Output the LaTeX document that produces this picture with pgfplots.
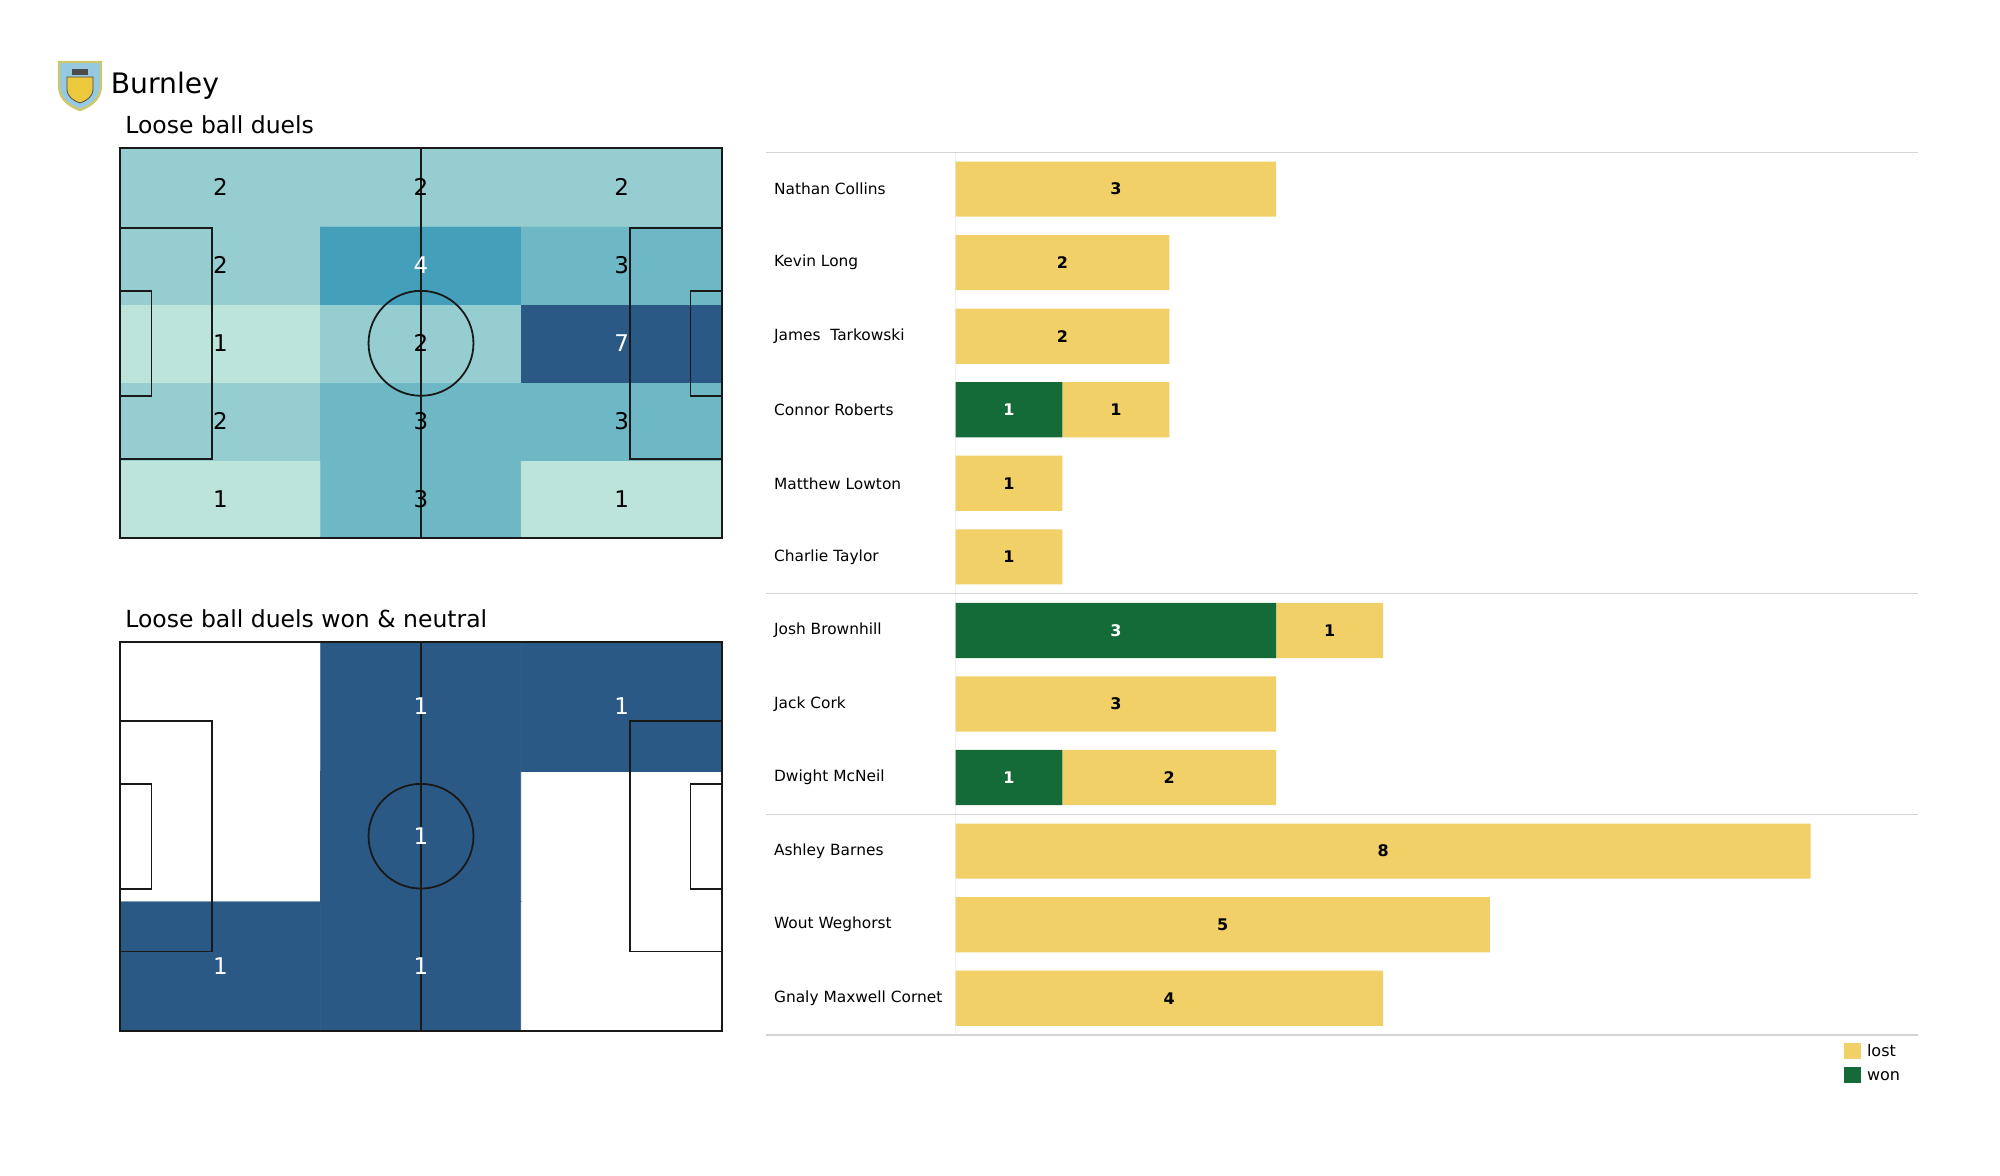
\documentclass[border=0pt]{standalone}
\usepackage{pgfplots}
\pgfplotsset{compat=1.18}
\usepackage{pgfplotstable}
\usepackage{fontspec}
\setmainfont{DejaVu Sans}
\definecolor{lostc}{RGB}{242,208,104}
\definecolor{wonc}{RGB}{21,107,56}
\definecolor{pline}{RGB}{25,25,25}
\definecolor{sepc}{RGB}{212,212,212}
\definecolor{crestblue}{RGB}{150,200,225}
\definecolor{crestrim}{RGB}{205,200,110}
\definecolor{crestyel}{RGB}{235,200,60}

\pgfplotstableread{
x y v
17.5 6.8 1
52.5 6.8 3
87.5 6.8 1
17.5 20.4 2
52.5 20.4 3
87.5 20.4 3
17.5 34 1
52.5 34 2
87.5 34 7
17.5 47.6 2
52.5 47.6 4
87.5 47.6 3
17.5 61.2 2
52.5 61.2 2
87.5 61.2 2
}\heatA

\pgfplotstableread{
x y t
17.5 6.8 1
52.5 6.8 3
87.5 6.8 1
17.5 20.4 2
52.5 20.4 3
87.5 20.4 3
17.5 34 1
52.5 34 2
17.5 47.6 2
87.5 47.6 3
17.5 61.2 2
52.5 61.2 2
87.5 61.2 2
}\labA

\pgfplotstableread{
x y t
52.5 47.6 4
87.5 34 7
}\labAw

\pgfplotstableread{
x y v
17.5 11.333 1
52.5 11.333 1
87.5 11.333 0
17.5 34 0
52.5 34 1
87.5 34 0
17.5 56.667 0
52.5 56.667 1
87.5 56.667 1
}\heatB

\pgfplotstableread{
x y t
17.5 11.333 1
52.5 11.333 1
52.5 34 1
52.5 56.667 1
87.5 56.667 1
}\labB

\pgfplotstableread{
row won lost
0 0 3
1 0 2
2 0 2
3 1 1
4 0 1
5 0 1
6 3 1
7 0 3
8 1 2
9 0 8
10 0 5
11 0 4
}\bardata

\pgfplotstableread{
x y t
0.5 3 1
1.5 6 3
0.5 8 1
}\wonlab

\pgfplotstableread{
x y t
1.5 0 3
1 1 2
1 2 2
1.5 3 1
0.5 4 1
0.5 5 1
3.5 6 1
1.5 7 3
2 8 2
4 9 8
2.5 10 5
2 11 4
}\lostlab

\tikzset{pl/.style={draw=pline, line width=0.9pt}}
\newcommand{\pitchlines}{%
  \draw[pl] (axis cs:52.5,0) -- (axis cs:52.5,68);
  \draw[pl] (axis cs:52.5,34) circle[radius=9.15];
  \draw[pl] (axis cs:0,13.84) -- (axis cs:16,13.84) -- (axis cs:16,54.16) -- (axis cs:0,54.16);
  \draw[pl] (axis cs:105,13.84) -- (axis cs:89,13.84) -- (axis cs:89,54.16) -- (axis cs:105,54.16);
  \draw[pl] (axis cs:0,24.84) -- (axis cs:5.5,24.84) -- (axis cs:5.5,43.16) -- (axis cs:0,43.16);
  \draw[pl] (axis cs:105,24.84) -- (axis cs:99.5,24.84) -- (axis cs:99.5,43.16) -- (axis cs:105,43.16);
  \draw[pl, line width=1.1pt] (axis cs:0,0) rectangle (axis cs:105,68);
}
\pgfplotsset{
  pitchaxis/.style={anchor=south west, scale only axis, width=301pt,
    xmin=0, xmax=105, ymin=0, ymax=68, hide axis, clip=false, enlargelimits=false},
  heatlab/.style={only marks, mark=none, nodes near coords, point meta=explicit symbolic,
    nodes near coords align=center,
    every node near coord/.append style={anchor=center, text=#1, font=\fontsize{11.5}{13}\selectfont}},
  barlab/.style={only marks, mark=none, nodes near coords, point meta=explicit symbolic,
    nodes near coords align=center,
    every node near coord/.append style={anchor=center, text=#1, font=\bfseries\fontsize{8}{9.6}\selectfont}},
  sqlegend/.style={legend image code/.code={\fill[##1] (0pt,-3.05pt) rectangle (8.5pt,4.95pt);}},
}

\begin{document}
\begin{tikzpicture}
\useasboundingbox (0,0) rectangle (1000pt,587.5pt);

% crest
\filldraw[fill=crestblue, draw=crestrim, line width=1.2pt]
  (29.5pt,556.5pt) -- (50.5pt,556.5pt) -- (50.5pt,545pt)
  .. controls (50.5pt,537pt) and (44pt,534pt) .. (40pt,532.5pt)
  .. controls (36pt,534pt) and (29.5pt,537pt) .. (29.5pt,545pt) -- cycle;
\filldraw[fill=crestyel, draw=black!70, line width=0.4pt]
  (33.5pt,549pt) -- (46.5pt,549pt) -- (46.5pt,543pt)
  .. controls (46.5pt,539pt) and (43pt,537pt) .. (40pt,536pt)
  .. controls (37pt,537pt) and (33.5pt,539pt) .. (33.5pt,543pt) -- cycle;
\fill[black!70] (36pt,550pt) rectangle (44pt,553pt);

\node[anchor=base west, inner sep=0pt, font=\fontsize{14.1}{16}\selectfont] at (55.25pt,540.85pt) {Burnley};
\node[anchor=base west, inner sep=0pt, font=\fontsize{11.75}{14}\selectfont] at (62.5pt,520.5pt) {Loose ball duels};
\node[anchor=base west, inner sep=0pt, font=\fontsize{11.75}{14}\selectfont] at (62.5pt,273.65pt) {Loose ball duels won \& neutral};

% pitch 1
\begin{axis}[pitchaxis, at={(60pt,318.35pt)}, height=195pt,
  colormap={heatA}{rgb255(0cm)=(189,228,218) rgb255(1cm)=(149,205,208) rgb255(2cm)=(109,184,196) rgb255(3cm)=(68,160,186) rgb255(6cm)=(43,89,134)},
  point meta min=1, point meta max=7]
\addplot[matrix plot*, mesh/cols=3, point meta=explicit] table[x=x, y=y, meta=v] {\heatA};
\pitchlines
\addplot[heatlab=black] table[x=x, y=y, meta=t] {\labA};
\addplot[heatlab=white] table[x=x, y=y, meta=t] {\labAw};
\end{axis}

% pitch 2
\begin{axis}[pitchaxis, at={(60pt,72.15pt)}, height=194.5pt,
  colormap={heatB}{rgb255(0cm)=(255,255,255) rgb255(1cm)=(43,89,134)},
  point meta min=0, point meta max=1]
\addplot[matrix plot*, mesh/cols=3, point meta=explicit] table[x=x, y=y, meta=v] {\heatB};
\pitchlines
\addplot[heatlab=white] table[x=x, y=y, meta=t] {\labB};
\end{axis}

% bar chart
\begin{axis}[at={(477.75pt,70pt)}, anchor=south west, scale only axis,
  width=481pt, height=441.35pt,
  xmin=0, xmax=9, ymin=-0.5, ymax=11.5, y dir=reverse,
  xbar stacked, bar width=0.75,
  axis x line=none, axis y line*=left,
  y axis line style={draw=black!6, line width=0.6pt},
  ytick={0,...,11},
  yticklabels={Nathan Collins, Kevin Long, James~ Tarkowski, Connor Roberts, Matthew Lowton, Charlie Taylor, Josh Brownhill, Jack Cork, Dwight McNeil, Ashley Barnes, Wout Weghorst, Gnaly Maxwell Cornet},
  major tick length=0pt, ytick style={draw=none},
  yticklabel style={anchor=west, inner sep=0pt, xshift=-90.9pt, font=\fontsize{7.7}{9}\selectfont},
  clip=false,
  legend style={at={(0.9236,-0.009)}, anchor=north west, draw=none, fill=none,
    inner sep=0pt, outer sep=0pt, row sep=3pt, column sep=3pt,
    font=\fontsize{8}{9.6}\selectfont,
    nodes={inner sep=0pt, text depth=2pt, text height=6pt}},
  legend cell align=left, reverse legend]
\addplot[fill=wonc, draw=none, sqlegend] table[x=won, y=row] {\bardata};
\addlegendentry{won}
\addplot[fill=lostc, draw=none, sqlegend] table[x=lost, y=row] {\bardata};
\addlegendentry{lost}
\draw[sepc, line width=0.75pt] (axis cs:-1.773,-0.5) -- (axis cs:9,-0.5);
\draw[sepc, line width=0.75pt] (axis cs:-1.773,5.5) -- (axis cs:9,5.5);
\draw[sepc, line width=0.75pt] (axis cs:-1.773,8.5) -- (axis cs:9,8.5);
\draw[sepc, line width=0.75pt] (axis cs:-1.773,11.5) -- (axis cs:9,11.5);
\end{axis}

% bar labels
\begin{axis}[at={(477.75pt,70pt)}, anchor=south west, scale only axis,
  width=481pt, height=441.35pt,
  xmin=0, xmax=9, ymin=-0.5, ymax=11.5, y dir=reverse, hide axis, clip=false]
\addplot[barlab=white] table[x=x, y=y, meta=t] {\wonlab};
\addplot[barlab=black] table[x=x, y=y, meta=t] {\lostlab};
\end{axis}
\end{tikzpicture}
\end{document}
